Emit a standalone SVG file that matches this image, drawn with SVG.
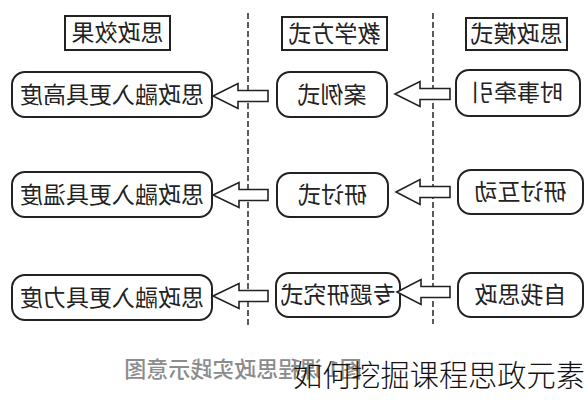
<svg xmlns="http://www.w3.org/2000/svg" width="588" height="400" viewBox="0 0 588 400">
<style>
.hdr{fill:#fff;stroke:#222;stroke-width:2}
.box{fill:#fff;stroke:#222;stroke-width:2}
.t{font-family:"Noto Sans CJK SC","Noto Sans",sans-serif;font-size:23px;fill:#222;text-anchor:middle}
.arr{fill:#fff;stroke:#222;stroke-width:1.6;stroke-linejoin:miter}
.sep{stroke:#333;stroke-width:1.6;stroke-dasharray:6 3;fill:none}
.cap{font-family:"Noto Sans CJK SC","Noto Sans",sans-serif;font-size:22px;fill:#8c8c8c;text-anchor:middle;font-weight:500}
.wm{font-family:"Noto Sans CJK SC","Noto Sans",sans-serif;font-size:29.2px;fill:#111;font-weight:300}
</style>
<rect width="588" height="400" fill="#fff"/>
<g id="separators">
<line class="sep" x1="248" y1="13" x2="248" y2="327"/>
<line class="sep" x1="433" y1="13" x2="433" y2="324"/>
</g>
<g id="hdr-effect"><rect class="hdr" x="65" y="16" width="105" height="34"/><text class="t" x="-117.5" y="41" transform="scale(-1,1)">思政效果</text></g>
<g id="hdr-method"><rect class="hdr" x="282" y="17" width="105" height="33"/><text class="t" x="-334.5" y="42" transform="scale(-1,1)">教学方式</text></g>
<g id="hdr-mode"><rect class="hdr" x="466" y="18" width="101" height="32"/><text class="t" x="-516.5" y="42" transform="scale(-1,1)">思政模式</text></g>

<g id="n-gaodu"><rect class="box" x="12" y="72" width="200" height="45" rx="13"/><text class="t" x="-112" y="102.5" transform="scale(-1,1)">思政融入更具高度</text></g>
<g id="n-anli"><rect class="box" x="277" y="72" width="110" height="45" rx="13"/><text class="t" x="-332" y="102.5" transform="scale(-1,1)">案例式</text></g>
<g id="n-shishi"><rect class="box" x="456" y="70" width="124" height="46" rx="13"/><text class="t" x="-517" y="101" transform="scale(-1,1)">时事牵引</text></g>

<g id="n-wendu"><rect class="box" x="12" y="172" width="200" height="45" rx="13"/><text class="t" x="-112" y="202.5" transform="scale(-1,1)">思政融入更具温度</text></g>
<g id="n-yantao"><rect class="box" x="277" y="173" width="111" height="44" rx="13"/><text class="t" x="-332.5" y="203" transform="scale(-1,1)">研讨式</text></g>
<g id="n-hudong"><rect class="box" x="458" y="170" width="125" height="44" rx="13"/><text class="t" x="-520.5" y="200" transform="scale(-1,1)">研讨互动</text></g>

<g id="n-lidu"><rect class="box" x="12" y="275" width="200" height="45" rx="13"/><text class="t" x="-112" y="305.5" transform="scale(-1,1)">思政融入更具力度</text></g>
<g id="n-zhuanti"><rect class="box" x="276" y="273" width="124" height="44" rx="13"/><text class="t" x="-338" y="303" transform="scale(-1,1)">专题研究式</text></g>
<g id="n-ziwo"><rect class="box" x="458" y="273" width="125" height="44" rx="13"/><text class="t" x="-520.5" y="303" transform="scale(-1,1)">自我思政</text></g>

<g id="connectors">
<polygon class="arr" points="213,96 238,83.5 238,90.5 268,90.5 268,101.5 238,101.5 238,108.5"/>
<polygon class="arr" points="395,94 420,81.5 420,88.5 450,88.5 450,99.5 420,99.5 420,106.5"/>
<polygon class="arr" points="213,195 239,182.5 239,189.5 268,189.5 268,200.5 239,200.5 239,207.5"/>
<polygon class="arr" points="396,192 420,179.5 420,186.5 450,186.5 450,197.5 420,197.5 420,204.5"/>
<polygon class="arr" points="213,296 239,283.5 239,290.5 268,290.5 268,301.5 239,301.5 239,308.5"/>
<polygon class="arr" points="397,292 421,279.5 421,286.5 450,286.5 450,297.5 421,297.5 421,304.5"/>
</g>
<text class="cap" x="-243" y="377" transform="scale(-1,1)">图1 课程思政实践示意图</text>
<text class="wm" x="293" y="386">如何挖掘课程思政元素</text>
</svg>
